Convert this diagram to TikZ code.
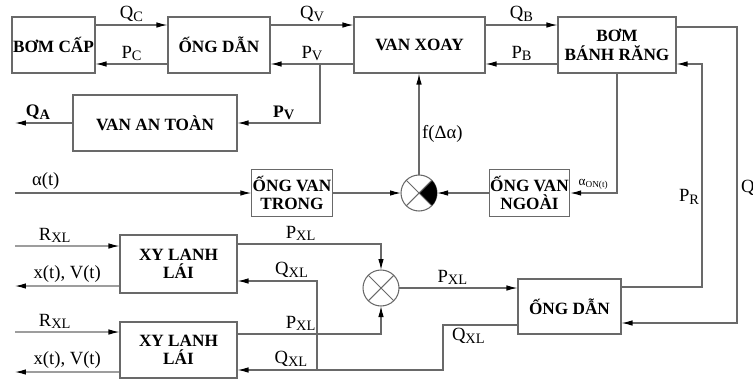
\documentclass[tikz,border=0pt]{standalone}
\usepackage{fontspec}
\setmainfont{Liberation Serif}
\usepackage{tikz}
\usetikzlibrary{positioning,arrows.meta}
\definecolor{wire}{RGB}{105,105,105}
\newcommand{\idx}[1]{\raisebox{-0.3ex}{\fontsize{8.2}{9}\selectfont #1}}

\begin{document}
\begin{tikzpicture}[x=0.02cm, y=-0.02cm,
  block/.style={draw=wire, line width=0.6pt, align=center, inner sep=0.5pt, font=\bfseries\fontsize{9.8}{10.5}\selectfont},
  sumpt/.style={draw=wire, line width=0.6pt, circle, minimum size=0.72cm, inner sep=0pt, outer sep=0pt},
  flow/.style={draw=wire, line width=0.6pt, -{Latex[length=2.2mm, width=1.1mm, color=black]}},
  lbl/.style={inner sep=1.5pt, font=\fontsize{10.6}{12}\selectfont}]
\useasboundingbox (0,0) rectangle (753,379);

% Top row
\node[block, minimum width=1.66cm, minimum height=1.12cm] (bomcap) at (53.5,45) {BƠM CẤP};
\node[block, minimum width=2.04cm, minimum height=1.12cm] (ongdan1) at (219,45) {ỐNG DẪN};
\node[block, minimum width=2.62cm, minimum height=1.12cm] (vanxoay) at (419.5,45) {VAN XOAY};
\node[block, minimum width=2.36cm, minimum height=1.12cm] (bombr) at (617,45) {BƠM\\BÁNH RĂNG};
\node[block, minimum width=3.28cm, minimum height=1.12cm] (vanantoan) at (155,123) {VAN AN TOÀN};

% Valve row
\node[block, minimum width=1.6cm, minimum height=0.94cm] (ongvantrong) at (292,193) {ỐNG VAN\\TRONG};
\node[sumpt] (sum1) at (419,193) {};
\node[block, minimum width=1.58cm, minimum height=0.94cm] (ongvanngoai) at (529.5,193) {ỐNG VAN\\NGOÀI};

% Cylinders
\node[block, minimum width=2.34cm, minimum height=1.16cm] (xylanh1) at (178.5,264) {XY LANH\\LÁI};
\node[block, minimum width=2.34cm, minimum height=1.12cm] (xylanh2) at (178.5,350) {XY LANH\\LÁI};
\node[sumpt] (sum2) at (381,288) {};
\node[block, minimum width=2.06cm, minimum height=1.1cm] (ongdan2) at (569.5,306.5) {ỐNG DẪN};

% Summing points
\fill (sum1.center) -- (sum1.north east) arc[start angle=45, end angle=-45, radius=0.36cm] -- cycle;
\draw[wire, line width=0.6pt] (sum1.north west) -- (sum1.south east) (sum1.north east) -- (sum1.south west);
\draw[wire, line width=0.6pt] (sum2.north west) -- (sum2.south east) (sum2.north east) -- (sum2.south west);

% Free ends
\coordinate (pvtap) at (320,64);
\coordinate (qaend) at (15,123);
\coordinate (qbus) at (737,200);
\coordinate (prbus) at (702,200);
\coordinate (alphain) at (15,193);
\coordinate (rxl1) at (15,246);
\coordinate (xv1) at (15,286);
\coordinate (rxl2) at (15,332);
\coordinate (xv2) at (15,372);
\coordinate (qxlbus) at (443,350);
\coordinate (qxltap) at (317,370);

% Arrows
\draw[flow] ([yshift=.4cm]bomcap.east) -- node[lbl, above] {Q\idx{C}} ([yshift=.4cm]ongdan1.west);
\draw[flow] ([yshift=-.38cm]ongdan1.west) -- node[lbl, above] {P\idx{C}} ([yshift=-.38cm]bomcap.east);
\draw[flow] ([yshift=.4cm]ongdan1.east) -- node[lbl, above] {Q\idx{V}} ([yshift=.4cm]vanxoay.west);
\draw[flow] ([yshift=-.38cm]vanxoay.west) -- node[lbl, above] {P\idx{V}} ([yshift=-.38cm]ongdan1.east);
\draw[flow] (pvtap) |- node[lbl, pos=.72, above, font=\bfseries\fontsize{10}{11}\selectfont] {P\idx{V}} (vanantoan.east);
\draw[flow] (vanantoan.west) -- node[lbl, pos=.6, above, font=\bfseries\fontsize{10}{11}\selectfont] {Q\idx{A}} (qaend);
\draw[flow] ([yshift=.4cm]vanxoay.east) -- node[lbl, above] {Q\idx{B}} ([yshift=.4cm]bombr.west);
\draw[flow] ([yshift=-.38cm]bombr.west) -- node[lbl, above] {P\idx{B}} ([yshift=-.38cm]vanxoay.east);
\draw[flow] ([yshift=.36cm]bombr.east) -| (qbus) |- ([yshift=-.33cm]ongdan2.east);
\node[lbl, anchor=west] at (738,188) {Q};
\draw[flow] ([yshift=.39cm]ongdan2.east) -| (prbus) |- ([yshift=-.38cm]bombr.east);
\node[lbl, anchor=east] at (702,197) {P\idx{R}};
\draw[flow] (bombr.south) |- node[lbl, pos=.75, above, font=\fontsize{7.5}{8}\selectfont] {α\textsubscript{ON(t)}} (ongvanngoai.east);
\draw[flow] (alphain) -- node[lbl, pos=.13, above] {α(t)} (ongvantrong.west);
\draw[flow] (ongvantrong) -- (sum1);
\draw[flow] (ongvanngoai) -- (sum1);
\draw[flow] (sum1.north) -- node[lbl, pos=.4, right] {f(Δα)} (sum1.north |- vanxoay.south);

\draw[flow] (rxl1) -- node[lbl, pos=.38, above] {R\idx{XL}} ([yshift=.36cm]xylanh1.west);
\draw[flow] ([yshift=-.44cm]xylanh1.west) -- node[lbl, above] {x(t), V(t)} (xv1);
\draw[flow] (rxl2) -- node[lbl, pos=.38, above] {R\idx{XL}} ([yshift=.36cm]xylanh2.west);
\draw[flow] ([yshift=-.44cm]xylanh2.west) -- node[lbl, above] {x(t), V(t)} (xv2);
\draw[flow] ([yshift=.4cm]xylanh1.east) -| node[lbl, pos=.22, above] {P\idx{XL}} (sum2.north);
\draw[flow] ([yshift=.32cm]xylanh2.east) -| node[lbl, pos=.22, above] {P\idx{XL}} (sum2.south);
\draw[flow] (sum2.east) -- node[lbl, pos=.45, above] {P\idx{XL}} (sum2.east -| ongdan2.west);
\draw[flow] ([yshift=-.37cm]ongdan2.west) -| node[lbl, pos=.33, below] {Q\idx{XL}} (qxlbus) |- node[lbl, pos=.87, above] {Q\idx{XL}} ([yshift=-.4cm]xylanh2.east);
\draw[flow] (qxltap) |- node[lbl, pos=.66, above] {Q\idx{XL}} ([yshift=-.34cm]xylanh1.east);
\end{tikzpicture}
\end{document}
